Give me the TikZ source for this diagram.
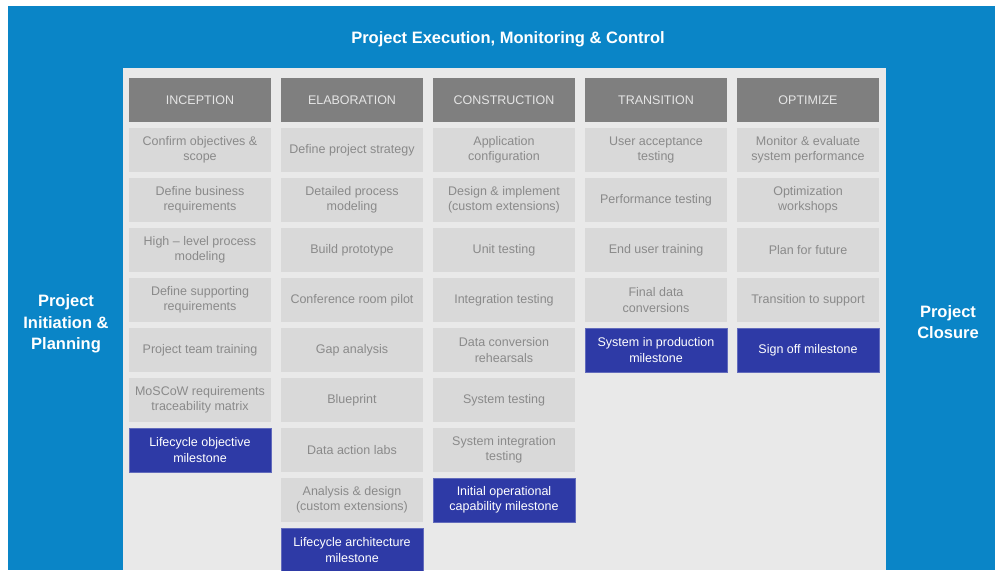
\documentclass[tikz,border=0pt]{standalone}
\usepackage{fontspec}
\setmainfont{Liberation Sans}
\usepackage{xcolor}
\usetikzlibrary{positioning}
\definecolor{frameblue}{HTML}{0A85C7}
\definecolor{panelgray}{HTML}{E9E9E9}
\definecolor{phasegray}{HTML}{7F7F7F}
\definecolor{taskgray}{HTML}{D9D9D9}
\definecolor{tasktext}{HTML}{8A8A8A}
\definecolor{milestoneblue}{HTML}{2E3AA6}
\tikzset{
	box/.style = {
		rectangle, minimum width=142pt, minimum height=44pt, inner sep=0pt, outer sep=0pt,
		align=center, font=\fontsize{12.5}{15.5}\selectfont
	}
}
\tikzset{
	phase/.style = {
		box, fill=phasegray, text=black!10
	}
}
\tikzset{
	task/.style = {
		box, fill=taskgray, text=tasktext
	}
}
\tikzset{
	milestone/.style = {
		box, fill=milestoneblue, draw=milestoneblue!75!white, line width=0.5pt, text=white
	}
}
\tikzset{
	stage/.style = {
		text=white, align=center, font=\fontsize{16.5}{21.5}\selectfont\bfseries
	}
}

\begin{document}
\begin{tikzpicture}[x=1pt, y=1pt, node distance=6pt]
	\useasboundingbox (0,0) rectangle (995,-570);
	\fill[frameblue] (8,-6) rectangle (995,-570);
	\fill[panelgray] (123,-68) rectangle (886,-570);
	\node[stage](Execution) at (508,-39.5){Project Execution, Monitoring \& Control};
	\node[stage](Initiation) at (66,-324){Project\\Initiation \&\\Planning};
	\node[stage](Closure) at (948,-322){Project\\Closure};
	% inception
	\node[phase](Inception) at (200,-100){INCEPTION};
	\node[task, below=of Inception](ConfirmObjectives){Confirm objectives \&\\scope};
	\node[task, below=of ConfirmObjectives](BusinessRequirements){Define business\\requirements};
	\node[task, below=of BusinessRequirements](HighLevelModeling){High -- level process\\modeling};
	\node[task, below=of HighLevelModeling](SupportingRequirements){Define supporting\\requirements};
	\node[task, below=of SupportingRequirements](TeamTraining){Project team training};
	\node[task, below=of TeamTraining](MoSCoWMatrix){MoSCoW requirements\\traceability matrix};
	\node[milestone, below=of MoSCoWMatrix](ObjectiveMilestone){Lifecycle objective\\milestone};
	% elaboration
	\node[phase, right=10pt of Inception](Elaboration){ELABORATION};
	\node[task, below=of Elaboration](ProjectStrategy){Define project strategy};
	\node[task, below=of ProjectStrategy](DetailedModeling){Detailed process\\modeling};
	\node[task, below=of DetailedModeling](Prototype){Build prototype};
	\node[task, below=of Prototype](RoomPilot){Conference room pilot};
	\node[task, below=of RoomPilot](GapAnalysis){Gap analysis};
	\node[task, below=of GapAnalysis](Blueprint){Blueprint};
	\node[task, below=of Blueprint](ActionLabs){Data action labs};
	\node[task, below=of ActionLabs](AnalysisDesign){Analysis \& design\\(custom extensions)};
	\node[milestone, below=of AnalysisDesign](ArchitectureMilestone){Lifecycle architecture\\milestone};
	% construction
	\node[phase, right=10pt of Elaboration](Construction){CONSTRUCTION};
	\node[task, below=of Construction](AppConfiguration){Application\\configuration};
	\node[task, below=of AppConfiguration](DesignImplement){Design \& implement\\(custom extensions)};
	\node[task, below=of DesignImplement](UnitTesting){Unit testing};
	\node[task, below=of UnitTesting](IntegrationTesting){Integration testing};
	\node[task, below=of IntegrationTesting](ConversionRehearsals){Data conversion\\rehearsals};
	\node[task, below=of ConversionRehearsals](SystemTesting){System testing};
	\node[task, below=of SystemTesting](SystemIntegration){System integration\\testing};
	\node[milestone, below=of SystemIntegration](CapabilityMilestone){Initial operational\\capability milestone};
	% transition
	\node[phase, right=10pt of Construction](Transition){TRANSITION};
	\node[task, below=of Transition](AcceptanceTesting){User acceptance\\testing};
	\node[task, below=of AcceptanceTesting](PerformanceTesting){Performance testing};
	\node[task, below=of PerformanceTesting](UserTraining){End user training};
	\node[task, below=of UserTraining](FinalConversions){Final data\\conversions};
	\node[milestone, below=of FinalConversions](ProductionMilestone){System in production\\milestone};
	% optimize
	\node[phase, right=10pt of Transition](Optimize){OPTIMIZE};
	\node[task, below=of Optimize](MonitorEvaluate){Monitor \& evaluate\\system performance};
	\node[task, below=of MonitorEvaluate](Workshops){Optimization\\workshops};
	\node[task, below=of Workshops](FuturePlan){Plan for future};
	\node[task, below=of FuturePlan](SupportTransition){Transition to support};
	\node[milestone, below=of SupportTransition](SignOffMilestone){Sign off milestone};
\end{tikzpicture}
\end{document}
